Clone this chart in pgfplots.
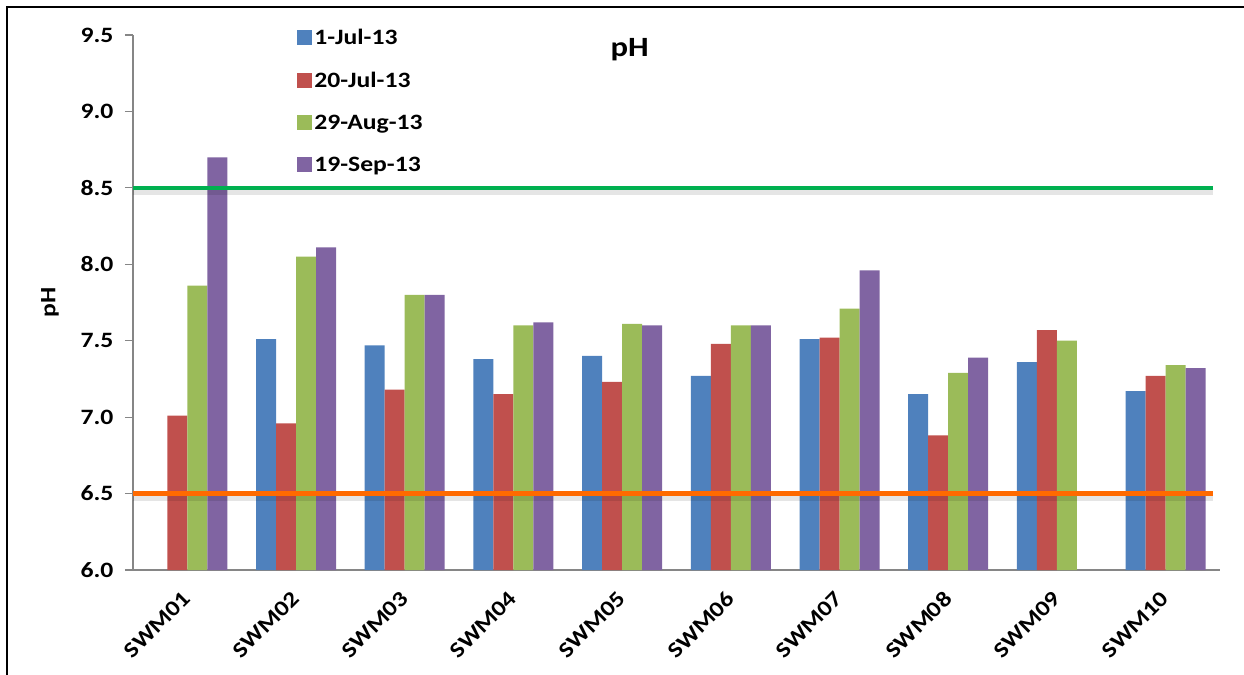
\documentclass[border=0pt]{standalone}
\usepackage{pgfplots}
\pgfplotsset{compat=1.18}
\usepackage{fontspec}
\setmainfont{Carlito}[FakeStretch=1.17]
\definecolor{sBlue}{HTML}{4F81BD}
\definecolor{sRed}{HTML}{C0504D}
\definecolor{sGreen}{HTML}{9BBB59}
\definecolor{sPurple}{HTML}{8064A2}
\definecolor{limGreen}{HTML}{00B050}
\definecolor{limOrange}{HTML}{FF6A00}
\definecolor{axGray}{HTML}{868686}
\begin{document}
\begin{tikzpicture}
\path[use as bounding box] (-133bp,-105bp) rectangle (1111bp,570bp);
\draw[line width=2bp,black] (-126bp,-105bp) -- (-126bp,563bp) -- (1111bp,563bp);
\begin{axis}[
  at={(0,0)}, anchor=south west,
  scale only axis, width=1087bp, height=535bp,
  xmin=-0.5, xmax=9.5, ymin=6, ymax=9.5,
  axis x line*=bottom, axis y line*=left,
  axis line style={axGray, line width=1.2bp, -},
  xtick={0,...,9},
  xticklabels={SWM01,SWM02,SWM03,SWM04,SWM05,SWM06,SWM07,SWM08,SWM09,SWM10},
  xtick style={draw=none},
  extra x ticks={-0.5,0.5,...,9.5},
  extra x tick labels={},
  extra x tick style={tick style={axGray, line width=1.2bp}},
  x tick label style={rotate=45, anchor=north east, font=\fontsize{22}{26}\selectfont\bfseries, xshift=-9bp, yshift=-1bp},
  ytick={6,6.5,...,9.5},
  /pgf/number format/fixed, /pgf/number format/fixed zerofill, /pgf/number format/precision=1, /pgf/number format/assume math mode=true,
  y tick label style={font=\fontsize{22}{26}\selectfont\bfseries, xshift=-8bp},
  ytick style={axGray, line width=1.2bp},
  tick align=outside, major tick length=8bp,
  ylabel={pH}, ylabel style={font=\fontsize{22}{26}\selectfont\bfseries, at={(axis description cs:-0.0763,0.5)}, anchor=center},
  legend cell align=left,
  legend style={at={(0.151,1.015)}, anchor=north west, draw=none, fill=none,
    font=\fontsize{22}{26}\selectfont\bfseries, row sep=22bp, inner sep=0pt},
  legend image code/.code={\fill[#1,draw=none] (0bp,-7.5bp) rectangle (15bp,7.5bp);},
  clip=false,
]
\addplot[ybar, bar width=20bp, bar shift=-30bp, fill=sBlue, draw=none] coordinates {(1,7.51)(2,7.47)(3,7.38)(4,7.40)(5,7.27)(6,7.51)(7,7.15)(8,7.36)(9,7.17)};
\addplot[ybar, bar width=20bp, bar shift=-10bp, fill=sRed, draw=none] coordinates {(0,7.01)(1,6.96)(2,7.18)(3,7.15)(4,7.23)(5,7.48)(6,7.52)(7,6.88)(8,7.57)(9,7.27)};
\addplot[ybar, bar width=20bp, bar shift=10bp, fill=sGreen, draw=none] coordinates {(0,7.86)(1,8.05)(2,7.80)(3,7.60)(4,7.61)(5,7.60)(6,7.71)(7,7.29)(8,7.50)(9,7.34)};
\addplot[ybar, bar width=20bp, bar shift=30bp, fill=sPurple, draw=none] coordinates {(0,8.70)(1,8.11)(2,7.80)(3,7.62)(4,7.60)(5,7.60)(6,7.96)(7,7.39)(9,7.32)};
\legend{1-Jul-13,20-Jul-13,29-Aug-13,19-Sep-13}
\addplot[forget plot, black, opacity=0.10, line width=9bp, yshift=-3bp] coordinates {(-0.5,8.5)(9.435,8.5)};
\addplot[forget plot, black, opacity=0.10, line width=9bp, yshift=-3bp] coordinates {(-0.5,6.5)(9.435,6.5)};
\addplot[forget plot, limGreen, line width=4.5bp] coordinates {(-0.5,8.5)(9.435,8.5)};
\addplot[forget plot, limOrange, line width=4.5bp] coordinates {(-0.5,6.5)(9.435,6.5)};
\node[font=\fontsize{28}{32}\selectfont\bfseries] at (rel axis cs:0.457,0.972) {pH};
\end{axis}
\end{tikzpicture}
\end{document}
